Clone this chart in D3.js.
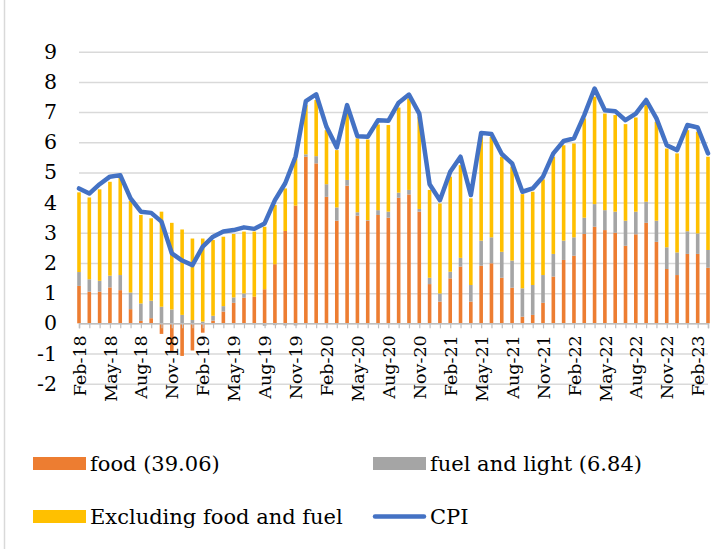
<!DOCTYPE html>
<html lang="en">
<head>
  <meta charset="UTF-8" />
  <title>CPI contributions</title>
  <script src="https://d3js.org/d3.v7.min.js"></script>
  <style>
    body {
      margin: 0;
      background: white;
    }

    svg {
      display: block;
      font-family: "DejaVu Serif", serif;
    }

    .legend text {
      font-size: 21px;
    }
  </style>
</head>
<body>
  <svg width="715" height="549"></svg>

  <script>
    const months = [
      "Feb-18","Mar-18","Apr-18","May-18","Jun-18","Jul-18","Aug-18","Sep-18","Oct-18","Nov-18","Dec-18",
      "Jan-19","Feb-19","Mar-19","Apr-19","May-19","Jun-19","Jul-19","Aug-19","Sep-19","Oct-19","Nov-19","Dec-19",
      "Jan-20","Feb-20","Mar-20","Apr-20","May-20","Jun-20","Jul-20","Aug-20","Sep-20","Oct-20","Nov-20","Dec-20",
      "Jan-21","Feb-21","Mar-21","Apr-21","May-21","Jun-21","Jul-21","Aug-21","Sep-21","Oct-21","Nov-21","Dec-21",
      "Jan-22","Feb-22","Mar-22","Apr-22","May-22","Jun-22","Jul-22","Aug-22","Sep-22","Oct-22","Nov-22","Dec-22",
      "Jan-23","Feb-23","Mar-23"
    ];

    const tickLabels = [
      "Feb-18","May-18","Aug-18","Nov-18","Feb-19","May-19","Aug-19","Nov-19","Feb-20","May-20","Aug-20",
      "Nov-20","Feb-21","May-21","Aug-21","Nov-21","Feb-22","May-22","Aug-22","Nov-22","Feb-23"
    ];

    const yTicks = [-2, -1, 0, 1, 2, 3, 4, 5, 6, 7, 8, 9];

    // contributions (percentage points)
    const food = [
      1.24, 1.05, 1.05, 1.19, 1.10, 0.47, 0.08, 0.17, -0.35, -0.94, -1.08,
      -0.90, -0.31, 0.09, 0.39, 0.68, 0.85, 0.88, 1.13, 1.96, 3.06, 3.90, 5.52,
      5.30, 4.19, 3.40, 4.56, 3.57, 3.40, 3.59, 3.50, 4.16, 4.27, 3.70, 1.30,
      0.72, 1.49, 1.88, 0.72, 1.91, 1.99, 1.51, 1.18, 0.22, 0.28, 0.68, 1.55,
      2.10, 2.24, 2.96, 3.20, 3.09, 3.00, 2.57, 2.95, 3.33, 2.70, 1.80, 1.60,
      2.30, 2.30, 1.84
    ];

    const fuel = [
      0.46, 0.41, 0.36, 0.39, 0.50, 0.55, 0.58, 0.58, 0.55, 0.46, 0.28,
      0.11, 0.06, 0.16, 0.18, 0.18, 0.14, -0.03, -0.08, -0.06, -0.07, -0.07, 0.08,
      0.24, 0.42, 0.44, 0.19, 0.11, 0.02, 0.16, 0.20, 0.17, 0.15, 0.09, 0.21,
      0.27, 0.22, 0.29, 0.55, 0.83, 0.86, 0.86, 0.90, 0.94, 0.99, 0.92, 0.75,
      0.64, 0.61, 0.54, 0.75, 0.66, 0.70, 0.83, 0.75, 0.70, 0.70, 0.72, 0.75,
      0.75, 0.68, 0.59
    ];

    const excl = [
      2.64, 2.71, 3.03, 3.11, 3.26, 3.04, 2.93, 2.73, 3.15, 2.87, 2.83,
      2.70, 2.75, 2.51, 2.30, 2.10, 2.05, 2.16, 2.07, 1.96, 1.41, 1.56, 1.63,
      1.86, 1.79, 1.90, 2.31, 2.45, 2.67, 2.84, 2.87, 2.82, 3.03, 3.05, 2.91,
      2.98, 3.15, 3.07, 2.87, 3.44, 3.33, 3.15, 3.11, 3.12, 3.09, 3.17, 3.22,
      3.16, 3.11, 3.29, 3.56, 3.20, 3.20, 3.20, 3.12, 3.20, 3.28, 3.27, 3.28,
      3.35, 3.37, 3.09
    ];

    const cpi = [
      4.47, 4.30, 4.61, 4.86, 4.91, 4.14, 3.70, 3.66, 3.37, 2.32, 2.08,
      1.93, 2.54, 2.87, 3.04, 3.09, 3.18, 3.13, 3.31, 4.08, 4.64, 5.52, 7.36,
      7.59, 6.51, 5.83, 7.23, 6.20, 6.18, 6.73, 6.71, 7.31, 7.58, 6.95, 4.61,
      4.08, 5.02, 5.52, 4.25, 6.31, 6.27, 5.61, 5.30, 4.36, 4.47, 4.86, 5.63,
      6.04, 6.13, 6.90, 7.78, 7.06, 7.03, 6.73, 6.95, 7.40, 6.79, 5.90, 5.74,
      6.57, 6.49, 5.63
    ];

    const seriesKeys = ["food", "fuel", "excl"];
    const colors = { food: "#ED7D31", fuel: "#A5A5A5", excl: "#FFC000" };

    const rows = months.map((m, i) => ({ month: m, food: food[i], fuel: fuel[i], excl: excl[i] }));

    const svg = d3.select("svg");

    // left frame line
    svg.append("line")
      .attr("x1", 4.5).attr("x2", 4.5)
      .attr("y1", 0).attr("y2", 549)
      .attr("stroke", "#d9d9d9")
      .attr("stroke-width", 1.5);

    const x = d3.scalePoint()
      .domain(months)
      .range([79, 708]);

    const y = d3.scaleLinear()
      .domain([-2, 9])
      .range([383.7, 51.7]);

    // gridlines
    svg.append("g")
      .attr("transform", "translate(79,0)")
      .call(d3.axisLeft(y).tickValues(yTicks).tickSize(-(708 - 79)).tickFormat(""))
      .call(g => g.select(".domain").remove())
      .call(g => g.selectAll("line").attr("stroke", "#d9d9d9").attr("stroke-width", 1.5));

    // y labels (plain hyphen for negatives, as in the original)
    svg.append("g")
      .attr("transform", "translate(79,0)")
      .call(d3.axisLeft(y).tickValues(yTicks).tickSize(0).tickPadding(22).tickFormat(d => String(d)))
      .call(g => g.select(".domain").remove())
      .call(g => g.selectAll("text")
        .attr("font-family", "DejaVu Serif, serif")
        .attr("font-size", 20.5)
        .attr("fill", "#000"));

    // stacked bars
    const stacked = d3.stack()
      .keys(seriesKeys)
      .offset(d3.stackOffsetDiverging)(rows);

    svg.append("g")
      .selectAll("g")
      .data(stacked)
      .join("g")
      .attr("fill", d => colors[d.key])
      .selectAll("rect")
      .data(d => d)
      .join("rect")
      .attr("x", d => x(d.data.month) - 1.8)
      .attr("width", 3.6)
      .attr("y", d => y(Math.max(d[0], d[1])))
      .attr("height", d => Math.abs(y(d[0]) - y(d[1])));

    // category axis at zero
    const labelSet = new Set(tickLabels);
    svg.append("g")
      .attr("transform", `translate(0,${y(0)})`)
      .call(d3.axisBottom(x).tickSize(5).tickFormat(d => labelSet.has(d) ? d : ""))
      .call(g => g.select(".domain").attr("stroke", "#bfbfbf").attr("stroke-width", 1.5))
      .call(g => g.selectAll("line").attr("stroke", "#bfbfbf").attr("stroke-width", 1.2))
      .call(g => g.selectAll("text")
        .attr("font-family", "DejaVu Serif, serif")
        .attr("font-size", 17.5)
        .attr("fill", "#000")
        .attr("text-anchor", "end")
        .attr("transform", "rotate(-90)")
        .attr("x", -12)
        .attr("y", 0)
        .attr("dy", "0.35em"));

    // CPI line
    const line = d3.line()
      .x((d, i) => x(months[i]))
      .y(d => y(d));

    svg.append("path")
      .datum(cpi)
      .attr("fill", "none")
      .attr("stroke", "#4472C4")
      .attr("stroke-width", 4.5)
      .attr("stroke-linejoin", "round")
      .attr("stroke-linecap", "round")
      .attr("d", line);

    // Legend
    const legendData = [
      { key: "food", label: "food (39.06)", x: 33, y: 457, type: "rect" },
      { key: "fuel", label: "fuel and light (6.84)", x: 373, y: 457, type: "rect" },
      { key: "excl", label: "Excluding food and fuel", x: 33, y: 510, type: "rect" },
      { key: "cpi", label: "CPI", x: 373, y: 510, type: "line" }
    ];

    const legend = svg.append("g").attr("class", "legend");

    const item = legend.selectAll("g")
      .data(legendData)
      .join("g")
      .attr("transform", d => `translate(${d.x},${d.y})`);

    item.filter(d => d.type === "rect")
      .append("rect")
      .attr("width", 53)
      .attr("height", 13)
      .attr("fill", d => colors[d.key]);

    item.filter(d => d.type === "line")
      .append("line")
      .attr("x1", 2).attr("x2", 51)
      .attr("y1", 6.5).attr("y2", 6.5)
      .attr("stroke", "#4472C4")
      .attr("stroke-width", 4.5)
      .attr("stroke-linecap", "round");

    item.append("text")
      .attr("x", 57)
      .attr("y", 6.5)
      .attr("dy", "0.35em")
      .attr("fill", "#000")
      .text(d => d.label);
  </script>
</body>
</html>
